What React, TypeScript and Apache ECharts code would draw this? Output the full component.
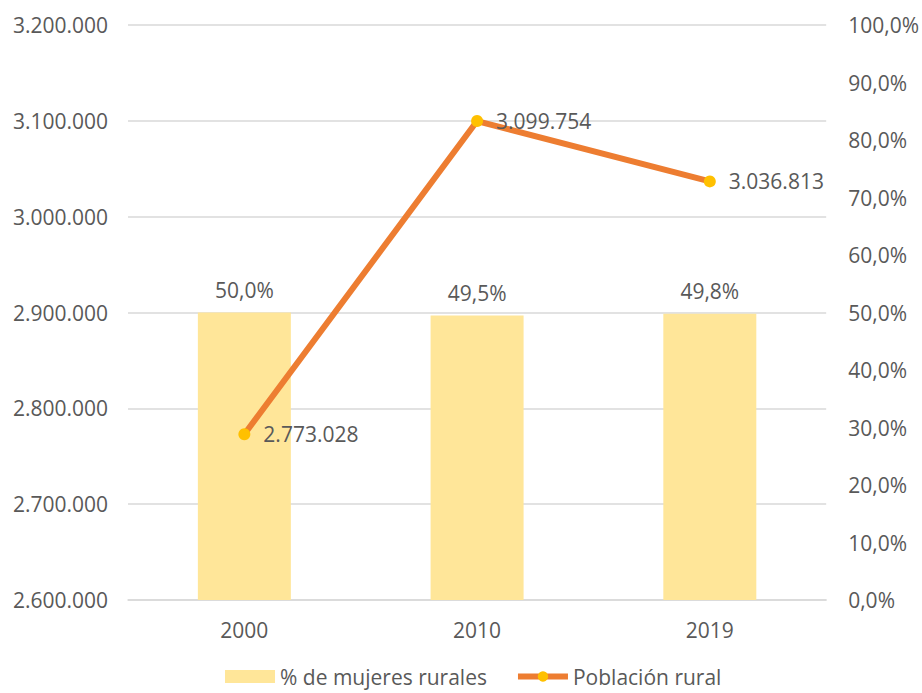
import React, { useEffect, useRef } from "react";
import * as echarts from "echarts";

const categories = ["2000", "2010", "2019"];
const pctMujeres = [50.0, 49.5, 49.8];
const poblacion = [2773028, 3099754, 3036813];
const barName = "% de mujeres rurales";
const lineName = "Población rural";

const FONT = "Open Sans";
const TXT = "#595959";
const FS = 21;

function fmtThousands(v: number): string {
  return Math.round(v).toString().replace(/\B(?=(\d{3})+(?!\d))/g, ".");
}
function fmtPct(v: number): string {
  return v.toFixed(1).replace(".", ",") + "%";
}

export default function App() {
  const ref = useRef<HTMLDivElement>(null);
  useEffect(() => {
    if (!ref.current) return;
    const chart = echarts.init(ref.current, undefined, { renderer: "svg" });
    chart.setOption({
      animation: false,
      backgroundColor: "#ffffff",
      textStyle: { fontFamily: FONT, color: TXT },
      grid: { left: 128, right: 95, top: 25, bottom: 93 },
      legend: {
        top: 661,
        left: 220,
        itemGap: 28,
        itemWidth: 50,
        itemHeight: 13,
        textStyle: { fontFamily: FONT, fontSize: FS, color: TXT },
        data: [
          { name: barName, icon: "rect" },
          { name: lineName, lineStyle: { width: 6 } },
        ],
      },
      xAxis: {
        type: "category",
        data: categories,
        axisTick: { show: false },
        axisLine: { lineStyle: { color: "#d9d9d9", width: 1.5 } },
        axisLabel: { fontFamily: FONT, fontSize: FS, color: TXT, margin: 19 },
      },
      yAxis: [
        {
          type: "value",
          min: 2600000,
          max: 3200000,
          interval: 100000,
          axisLine: { show: false },
          axisTick: { show: false },
          splitLine: { lineStyle: { color: "#d9d9d9", width: 1.5 } },
          axisLabel: {
            fontFamily: FONT,
            fontSize: FS,
            color: TXT,
            margin: 20,
            formatter: (v: number) => fmtThousands(v),
          },
        },
        {
          type: "value",
          min: 0,
          max: 100,
          interval: 10,
          axisLine: { show: false },
          axisTick: { show: false },
          splitLine: { show: false },
          axisLabel: {
            fontFamily: FONT,
            fontSize: FS,
            color: TXT,
            margin: 22,
            formatter: (v: number) => fmtPct(v),
          },
        },
      ],
      series: [
        {
          name: barName,
          type: "bar",
          yAxisIndex: 1,
          data: pctMujeres,
          barWidth: 93,
          itemStyle: { color: "#FFE699" },
          label: {
            show: true,
            position: "top",
            distance: 12,
            fontFamily: FONT,
            fontSize: FS,
            color: TXT,
            formatter: (p: any) => fmtPct(p.value),
          },
        },
        {
          name: lineName,
          type: "line",
          yAxisIndex: 0,
          data: poblacion,
          symbol: "circle",
          symbolSize: 12,
          lineStyle: { color: "#ED7D31", width: 6 },
          itemStyle: { color: "#FFC000" },
          z: 5,
          label: {
            show: true,
            position: "right",
            distance: 13,
            fontFamily: FONT,
            fontSize: FS,
            color: TXT,
            formatter: (p: any) => fmtThousands(p.value),
          },
        },
      ],
    });
    return () => chart.dispose();
  }, []);
  return (
    <div
      ref={ref}
      style={{ position: "fixed", left: 0, top: 0, width: 922, height: 693 }}
    />
  );
}
